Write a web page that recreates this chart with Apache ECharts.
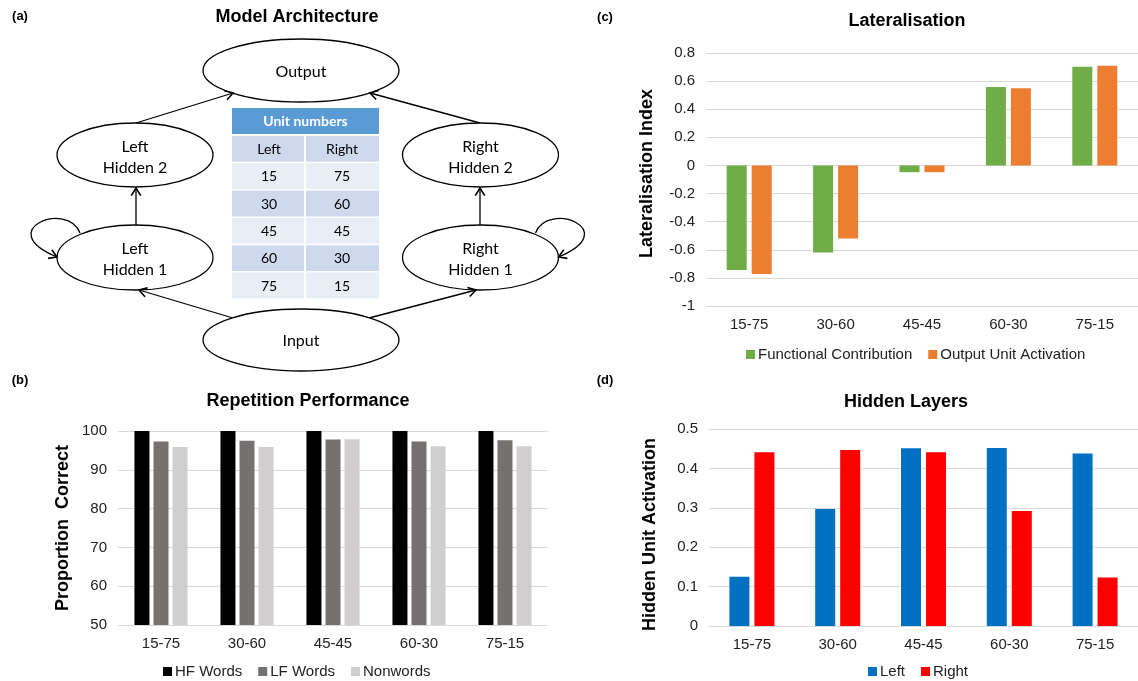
<!DOCTYPE html>
<html>
<head>
<meta charset="utf-8">
<script src="https://cdn.jsdelivr.net/npm/echarts@6/dist/echarts.min.js"></script>
<style>
  html, body { margin: 0; padding: 0; background: #ffffff; }
  #chart { width: 1138px; height: 681px; }
</style>
</head>
<body>
<div id="chart"></div>
<script>
// ---------- data ----------
const categories = ['15-75', '30-60', '45-45', '60-30', '75-15'];

const hfWords  = [100, 100, 100, 100, 100];
const lfWords  = [97.3, 97.5, 97.8, 97.3, 97.6];
const nonwords = [95.9, 95.9, 97.9, 96.1, 96.1];

const functionalContribution = [-0.743, -0.62, -0.048, 0.558, 0.703];
const outputUnitActivation   = [-0.772, -0.52, -0.048, 0.549, 0.71];

const hiddenLeft  = [0.125, 0.297, 0.451, 0.452, 0.438];
const hiddenRight = [0.441, 0.447, 0.441, 0.292, 0.123];

const unitLeft  = [15, 30, 45, 60, 75];
const unitRight = [75, 60, 45, 30, 15];

const nodeLabels = ['Output', 'Left\nHidden 2', 'Right\nHidden 2', 'Left\nHidden 1', 'Right\nHidden 1', 'Input'];

// ---------- helpers for diagram ----------
const FONT = 'Liberation Sans';
const DFONT = 'Lato';
const els = [];

function ellipse(cx, cy, rx, ry) {
  els.push({ type: 'ellipse', shape: { cx, cy, rx, ry }, style: { fill: '#fff', stroke: '#000', lineWidth: 1.3 }, z: 10 });
}
function label(text, x, y, size, opts) {
  els.push(Object.assign({ type: 'text', z: 20, style: Object.assign({
    text, x, y, font: (opts && opts.weight ? opts.weight + ' ' : '') + size + 'px "' + ((opts && opts.family) || DFONT) + '"',
    fill: (opts && opts.fill) || '#000', textAlign: 'center', textVerticalAlign: 'middle', lineHeight: (opts && opts.lh) || size
  }, {}) }));
}
function arrowHead(tx, ty, fx, fy) {
  const a = Math.atan2(ty - fy, tx - fx);
  const L = 9, s = 0.55;
  const p1 = [tx - L * Math.cos(a - s), ty - L * Math.sin(a - s)];
  const p2 = [tx - L * Math.cos(a + s), ty - L * Math.sin(a + s)];
  els.push({ type: 'polyline', shape: { points: [p1, [tx, ty], p2] }, style: { stroke: '#000', lineWidth: 1.6, fill: null }, z: 12 });
}
function arrow(x1, y1, x2, y2) {
  els.push({ type: 'line', shape: { x1, y1, x2, y2 }, style: { stroke: '#000', lineWidth: 1.3 }, z: 5 });
  arrowHead(x2, y2, x1, y1);
}
function loop(x1, y1, c1x, c1y, c2x, c2y, x2, y2) {
  els.push({ type: 'bezierCurve', shape: { x1, y1, cpx1: c1x, cpy1: c1y, cpx2: c2x, cpy2: c2y, x2, y2 },
    style: { stroke: '#000', lineWidth: 1.3, fill: null }, z: 5 });
  arrowHead(x2, y2, c2x, c2y);
}

// arrows
arrow(136, 123, 233, 93);
arrow(480, 123, 370, 93);
arrow(136, 225, 136, 188);
arrow(480, 225, 480, 188);
arrow(233, 318, 139, 290);
arrow(369, 318, 476, 290);
loop(80, 233, 68, 200, -8, 230, 57, 257);
loop(535.5, 233, 547.5, 200, 623.5, 230, 558.5, 257);

// ellipses
const nodes = [
  [301, 70.5, 98, 31.5], [135, 155, 78, 32], [480.5, 155, 78, 32],
  [135, 257.5, 78, 32.5], [480.5, 257.5, 78, 32.5], [301, 340, 98, 31]
];
nodes.forEach((n, i) => {
  ellipse(n[0], n[1], n[2], n[3]);
  label(nodeLabels[i], n[0], n[1] + (nodeLabels[i].indexOf('\n') >= 0 ? 2 : 1), 16, { lh: 21 });
});

// table
const tX = 232, tW = 147, colDiv = 305;
els.push({ type: 'rect', shape: { x: tX, y: 108, width: tW, height: 26 }, style: { fill: '#5B9BD5' }, z: 10 });
label('Unit numbers', tX + tW / 2, 121, 14, { weight: 'bold', fill: '#fff' });
const rowH = 27.3, row0 = 136;
const rowsText = [['Left', 'Right']].concat(unitLeft.map((v, i) => [String(v), String(unitRight[i])]));
rowsText.forEach((r, i) => {
  const y = row0 + i * rowH;
  const fill = (i % 2 === 0) ? '#CFD9EE' : '#E8EDF6';
  els.push({ type: 'rect', shape: { x: tX, y: y, width: colDiv - tX - 1, height: rowH - 1.5 }, style: { fill }, z: 10 });
  els.push({ type: 'rect', shape: { x: colDiv + 1, y: y, width: tX + tW - colDiv - 1, height: rowH - 1.5 }, style: { fill }, z: 10 });
  label(r[0], 269, y + rowH / 2, 14, {});
  label(r[1], 342, y + rowH / 2, 14, {});
});

// panel letters & diagram title
[['(a)', 20, 16], ['(b)', 20, 380], ['(c)', 605, 17], ['(d)', 605, 380]].forEach(p => {
  label(p[0], p[1], p[2], 13, { weight: 'bold', family: FONT });
});
label('Model Architecture', 297, 17, 18, { weight: 'bold', family: FONT });

// ---------- chart ----------
const axisLabelStyle = { color: '#222', fontSize: 15, fontFamily: FONT };
const split = { show: true, lineStyle: { color: '#D9D9D9', width: 1 } };

function xAx(gi) {
  return { type: 'category', gridIndex: gi, data: categories,
    axisLine: { show: false, onZero: false }, axisTick: { show: false },
    axisLabel: Object.assign({ margin: 11 }, axisLabelStyle) };
}
function yAx(gi, min, max, interval, name, gap, pad) {
  return { type: 'value', gridIndex: gi, min, max, interval, name, nameLocation: 'middle', nameGap: gap,
    nameTextStyle: { color: '#000', fontSize: 18, fontWeight: 'bold', fontFamily: FONT, padding: pad },
    axisLine: { show: false }, axisTick: { show: false },
    axisLabel: Object.assign({ margin: 11 }, axisLabelStyle), splitLine: split };
}
function bar(name, data, gi, color, width, gap) {
  return { type: 'bar', name, data, xAxisIndex: gi, yAxisIndex: gi, barWidth: width, barGap: gap,
    itemStyle: { color }, emphasis: { disabled: true } };
}
const legendBase = { icon: 'rect', itemWidth: 9, itemHeight: 9, itemGap: 16,
  textStyle: { fontSize: 15, fontFamily: FONT, color: '#222', padding: [0, 0, 0, -2] } };
const titleStyle = { fontSize: 18, fontWeight: 'bold', fontFamily: FONT, color: '#000' };

const option = {
  animation: false,
  textStyle: { fontFamily: FONT },
  title: [
    { text: 'Repetition Performance', left: 308, top: 392, textAlign: 'center', textStyle: titleStyle, padding: 0 },
    { text: 'Lateralisation', left: 907, top: 12, textAlign: 'center', textStyle: titleStyle, padding: 0 },
    { text: 'Hidden Layers', left: 906, top: 393, textAlign: 'center', textStyle: titleStyle, padding: 0 }
  ],
  legend: [
    Object.assign({}, legendBase, { data: ['HF Words', 'LF Words', 'Nonwords'], left: 163, top: 664, padding: 0 }),
    Object.assign({}, legendBase, { data: ['Functional Contribution', 'Output Unit Activation'], left: 746, top: 347, padding: 0 }),
    Object.assign({}, legendBase, { data: ['Left', 'Right'], left: 868, top: 664, padding: 0 })
  ],
  grid: [
    { left: 118, top: 431, width: 430, height: 194 },
    { left: 706, top: 53, width: 432, height: 253 },
    { left: 709, top: 429, width: 429, height: 197 }
  ],
  xAxis: [xAx(0), xAx(1), xAx(2)],
  yAxis: [
    yAx(0, 50, 100, 10, 'Proportion  Correct', 46, 0),
    yAx(1, -1, 0.8, 0.2, 'Lateralisation Index', 50, [0, 0, 0, 12]),
    yAx(2, 0, 0.5, 0.1, 'Hidden Unit Activation', 50, [0, 14, 0, 0])
  ],
  series: [
    bar('HF Words', hfWords, 0, '#000000', 15, '27%'),
    bar('LF Words', lfWords, 0, '#767171', 15, '27%'),
    bar('Nonwords', nonwords, 0, '#D0CECE', 15, '27%'),
    bar('Functional Contribution', functionalContribution, 1, '#70AD47', 20, '25%'),
    bar('Output Unit Activation', outputUnitActivation, 1, '#ED7D31', 20, '25%'),
    bar('Left', hiddenLeft, 2, '#0070C0', 20, '25%'),
    bar('Right', hiddenRight, 2, '#FF0000', 20, '25%')
  ],
  graphic: { elements: els }
};

const chart = echarts.init(document.getElementById('chart'), null, { renderer: 'canvas' });
chart.setOption(option);
</script>
</body>
</html>
